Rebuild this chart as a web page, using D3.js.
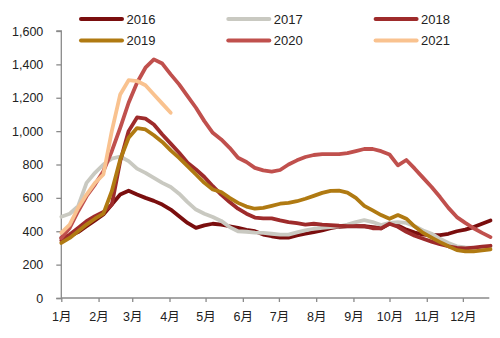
<!DOCTYPE html>
<html><head><meta charset="utf-8">
<script src="https://cdn.jsdelivr.net/npm/d3@7"></script>
<style>
body{margin:0;background:#fff;}
text{font-family:"Liberation Sans","Noto Sans CJK SC",sans-serif;font-size:12.5px;fill:#222;}
</style></head>
<body><svg id="c" width="500" height="338"></svg>
<script>
const monthLabels = ["1月","2月","3月","4月","5月","6月","7月","8月","9月","10月","11月","12月"];
const yTicks = [0,200,400,600,800,1000,1200,1400,1600];
const years = ["2016","2017","2018","2019","2020","2021"];
const colors = ["#7A0E0E","#C9C9C1","#9E2B2B","#B07A12","#C0504D","#F9C28F"];

const s2016 = [360,372,395,430,465,500,560,620,643,620,600,582,560,530,490,450,420,435,445,440,430,420,408,400,380,370,362,362,375,385,395,405,418,427,430,430,430,425,418,447,435,410,392,380,377,377,385,400,410,425,445,465];
const s2017 = [487,505,550,690,750,800,835,848,820,775,750,720,690,665,625,575,530,505,485,462,425,400,397,392,390,385,380,380,393,405,415,420,425,430,440,455,467,455,437,450,455,450,430,405,385,355,330,310,303,300,302,307];
const s2018 = [345,380,420,460,490,515,560,820,1000,1082,1075,1040,980,925,870,810,770,725,670,620,575,535,505,482,477,477,465,455,448,440,445,440,437,433,431,431,430,418,417,445,427,397,373,355,338,322,310,300,297,302,308,313];
const s2019 = [330,360,400,440,475,505,640,830,960,1018,1010,975,935,885,840,790,740,690,650,635,600,570,548,535,540,552,565,570,580,595,612,630,642,643,632,600,552,525,497,475,497,475,428,390,362,335,310,287,280,280,285,292];
const s2020 = [360,420,520,610,680,760,880,1020,1170,1290,1380,1430,1405,1340,1280,1210,1140,1060,990,950,900,840,815,780,765,757,767,800,825,845,857,862,862,862,868,880,893,893,880,860,795,827,775,720,665,605,540,485,450,418,390,365];
const s2021 = [390,440,540,620,690,740,1000,1220,1305,1300,1275,1220,1165,1110];
const seriesValues = [s2016,s2017,s2018,s2019,s2020,s2021];

const svg = d3.select("#c");
const weekDate = i => new Date(Date.UTC(2021,0,1+7*i));
const x = d3.scaleUtc().domain([new Date(Date.UTC(2021,0,1)), new Date(Date.UTC(2021,11,23))]).range([61.3,489.3]);
const y = d3.scaleLinear().domain([0,1600]).range([298,31]);
const axisColor = "#8a8a8a";

// y axis
const ya = svg.append("g").attr("transform","translate(61.3,0)")
  .call(d3.axisLeft(y).tickValues(yTicks).tickSize(5).tickPadding(13).tickFormat(d3.format(",")));
// x axis
const monthStarts = d3.utcMonth.range(new Date(Date.UTC(2021,0,1)), new Date(Date.UTC(2021,11,2)));
const xa = svg.append("g").attr("transform","translate(0,298)")
  .call(d3.axisBottom(x).tickValues(monthStarts).tickSize(4).tickPadding(10).tickFormat((d,i)=>monthLabels[i]));
[ya,xa].forEach(g=>{
  g.selectAll(".domain").attr("stroke",axisColor).attr("stroke-width",1.3);
  g.selectAll(".tick line").attr("stroke",axisColor).attr("stroke-width",1.3);
  g.selectAll("text").attr("fill","#222").style("font-size","12.5px");
});
ya.select(".domain").attr("d","M-5,298.5H0V31H-5");
xa.select(".domain").attr("d","M61.3,0H489.3");

// lines
const line = d3.line().x((d,i)=>x(weekDate(i))).y(d=>y(d));
seriesValues.forEach((vals,k)=>{
  svg.append("path").datum(vals).attr("d",line).attr("fill","none")
    .attr("stroke",colors[k]).attr("stroke-width",3.8).attr("stroke-linejoin","round").attr("stroke-linecap","round");
});

// legend
const leg = svg.append("g");
years.forEach((yr,k)=>{
  const col = k%3, row = Math.floor(k/3);
  const lx = 81 + col*147.3, ly = 19 + row*21.5;
  leg.append("line").attr("x1",lx).attr("x2",lx+41).attr("y1",ly).attr("y2",ly)
    .attr("stroke",colors[k]).attr("stroke-width",4).attr("stroke-linecap","round");
  leg.append("text").attr("x",lx+45.5).attr("y",ly+4.5).text(yr).style("font-size","13px");
});
</script></body></html>
